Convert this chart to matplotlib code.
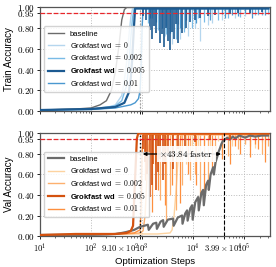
import matplotlib
matplotlib.use("Agg")
import matplotlib.pyplot as plt
from matplotlib.ticker import FixedLocator, FuncFormatter, NullFormatter

plt.rcParams['font.family'] = ['Liberation Sans', 'DejaVu Sans']
plt.rcParams['mathtext.fontset'] = 'cm'

# ---- train accuracy (top panel) ----
tr_base_x = [10, 50, 100, 150, 200, 250, 300, 350, 400, 450, 500, 300000]
tr_base_y = [0.01, 0.02, 0.03, 0.06, 0.1, 0.2, 0.38, 0.62, 0.88, 0.98, 1.0, 1.0]
tr_wd0_x = [10, 100, 200, 300, 400, 450, 500, 550, 600, 650, 300000]
tr_wd0_y = [0.01, 0.02, 0.03, 0.06, 0.15, 0.3, 0.48, 0.72, 0.9, 0.99, 0.99]
tr_wd002_x = [10, 100, 300, 400, 500, 550, 600, 650, 700, 300000]
tr_wd002_y = [0.01, 0.02, 0.05, 0.1, 0.25, 0.45, 0.7, 0.9, 0.99, 0.99]
tr_wd005_x = [10, 100, 300, 450, 550, 600, 640, 690, 730, 300000]
tr_wd005_y = [0.01, 0.02, 0.04, 0.08, 0.18, 0.32, 0.5, 0.8, 0.99, 0.99]
tr_wd01_x = [10, 100, 300, 600, 730, 850, 914, 960, 1000, 1046, 300000]
tr_wd01_y = [0.01, 0.015, 0.03, 0.06, 0.08, 0.12, 0.2, 0.45, 0.8, 0.99, 0.99]

# dips (step, lowest accuracy) of the noisy plateau
tr_wd0_dip_x = [1799, 2825, 3873, 5559, 7980, 10940, 13710, 19690, 23600, 37050, 66700, 104700,
                188300, 2061, 4643, 9550, 30900, 53100, 143600, 258000, 16440, 83500, 225400]
tr_wd0_dip_y = [0.82, 0.72, 0.65, 0.7, 0.72, 0.8, 0.68, 0.83, 0.85, 0.88, 0.9, 0.92,
                0.93, 0.9, 0.86, 0.9, 0.94, 0.95, 0.94, 0.95, 0.93, 0.95, 0.94]
tr_wd002_dip_x = [1311, 2061, 2956, 4643, 6660, 9550, 16440, 30900, 48530, 83500, 225400,
                  1571, 3540, 12530, 42400, 131300, 295500, 5081, 21540, 66700, 164500]
tr_wd002_dip_y = [0.85, 0.78, 0.74, 0.7, 0.76, 0.8, 0.86, 0.88, 0.9, 0.91, 0.93,
                  0.9, 0.8, 0.9, 0.94, 0.95, 0.94, 0.84, 0.92, 0.94, 0.93]
tr_wd005_dip_x = [1198, 1436, 1571, 1883, 2255, 2700, 3236, 3540, 4238, 5081, 6083, 7295, 8730,
                  13710, 27000, 53100, 131300, 1046, 1719, 2467, 2956, 3873, 4643, 10940,
                  19690, 76200, 225400]
tr_wd005_dip_y = [0.88, 0.78, 0.7, 0.75, 0.66, 0.62, 0.68, 0.59, 0.7, 0.66, 0.75, 0.8, 0.86,
                  0.9, 0.93, 0.94, 0.95, 0.92, 0.82, 0.74, 0.8, 0.76, 0.84, 0.88,
                  0.92, 0.95, 0.96]
tr_wd01_dip_x = [1436, 2467, 3540, 5559, 11450, 21540, 42400, 76200, 143600, 258000,
                 19690, 37050, 104700, 188300, 1883, 2956, 7295, 58200]
tr_wd01_dip_y = [0.9, 0.8, 0.75, 0.8, 0.85, 0.88, 0.9, 0.92, 0.9, 0.93,
                 0.95, 0.94, 0.95, 0.94, 0.86, 0.82, 0.88, 0.93]

# ---- val accuracy (bottom panel) ----
va_base_x = [10, 30, 100, 200, 300, 400, 500, 700, 914, 1100, 1300, 1350, 1644, 1900, 1950,
             2300, 2582, 2650, 3200, 4055, 4150, 5000, 6083, 6200, 7000, 7620, 7800, 8800,
             9550, 9800, 11000, 12530, 12900, 14500, 15710, 16200, 18000, 19690, 20300,
             22000, 24680, 25500, 27500, 29570, 31500, 33830, 36000, 38730, 42000, 46450,
             52000, 60000, 66700, 80000, 104700, 130000, 164500, 220000, 295000]
va_base_y = [0.01, 0.012, 0.012, 0.015, 0.02, 0.03, 0.04, 0.06, 0.09, 0.1, 0.11, 0.06, 0.12,
             0.13, 0.07, 0.14, 0.155, 0.09, 0.16, 0.17, 0.1, 0.18, 0.2, 0.12, 0.22, 0.25, 0.15,
             0.27, 0.3, 0.16, 0.33, 0.38, 0.25, 0.42, 0.45, 0.3, 0.5, 0.54, 0.45, 0.6, 0.67,
             0.6, 0.72, 0.77, 0.82, 0.86, 0.9, 0.93, 0.94, 0.96, 0.94, 0.97, 0.95, 0.98, 0.96,
             0.98, 0.97, 0.98, 0.98]
va_wd0_x = [10, 100, 500, 1000, 2000, 3540, 3873, 4238, 4643, 5081, 5559, 6083, 300000]
va_wd0_y = [0.01, 0.015, 0.02, 0.02, 0.02, 0.03, 0.06, 0.2, 0.45, 0.75, 0.92, 0.99, 0.99]
va_wd002_x = [10, 100, 500, 914, 1046, 1145, 1253, 1371, 1436, 300000]
va_wd002_y = [0.01, 0.015, 0.02, 0.03, 0.05, 0.2, 0.6, 0.95, 0.99, 0.99]
va_wd005_x = [10, 50, 100, 300, 500, 600, 665, 720, 790, 840, 300000]
va_wd005_y = [0.01, 0.02, 0.02, 0.02, 0.03, 0.05, 0.1, 0.5, 0.95, 1.0, 1.0]
va_wd01_x = [10, 100, 300, 700, 914, 960, 1000, 1046, 300000]
va_wd01_y = [0.01, 0.015, 0.02, 0.03, 0.06, 0.3, 0.8, 0.99, 0.99]

va_wd0_dip_x = [7295, 9550, 12530, 21540, 37050, 58200, 104700, 164500, 258000, 30900, 83500,
                16440, 131300, 225400]
va_wd0_dip_y = [0.7, 0.8, 0.75, 0.85, 0.82, 0.88, 0.9, 0.86, 0.9, 0.93, 0.94,
                0.9, 0.93, 0.92]
va_wd002_dip_x = [1799, 2255, 2956, 3540, 4643, 6083, 8730, 13710, 19690, 27000, 48530,
                  76200, 131300, 225400, 10940, 37050, 104700, 295500]
va_wd002_dip_y = [0.7, 0.35, 0.15, 0.4, 0.25, 0.5, 0.55, 0.35, 0.45, 0.7, 0.78,
                  0.85, 0.88, 0.8, 0.6, 0.86, 0.9, 0.88]
va_wd005_dip_x = [1046, 1253, 1436, 1645, 1883, 2255, 2582, 3236, 4055, 5081, 6966, 10940,
                  21540, 53100, 1145, 1571, 2061, 2825]
va_wd005_dip_y = [0.85, 0.6, 0.38, 0.7, 0.45, 0.75, 0.55, 0.8, 0.65, 0.85, 0.88, 0.92,
                  0.94, 0.95, 0.72, 0.5, 0.62, 0.7]
va_wd01_dip_x = [1145, 1571, 2061, 2825, 3873, 5559, 7980, 11450, 16440, 23600, 37050, 53100,
                 83500, 131300, 188300, 258000, 66700, 164500]
va_wd01_dip_y = [0.55, 0.23, 0.45, 0.3, 0.5, 0.32, 0.6, 0.5, 0.45, 0.62, 0.75, 0.7,
                 0.8, 0.77, 0.85, 0.72, 0.88, 0.9]

labels = ['baseline', r'Grokfast wd $=$ $0$', r'Grokfast wd $=$ $0.002$',
          r'Grokfast wd $\mathbf{=}$ $\mathbf{0.005}$', r'Grokfast wd $=$ $0.01$']
blue = ['#6b6b6b', '#b5d6ee', '#79bbe6', '#1c5a91', '#4a98d0']
orange = ['#6b6b6b', '#fdd3a0', '#fdb06e', '#d4520f', '#fd8f3e']

grok_base = 39900
grok_fast = 910
speedup = 43.84

fig = plt.figure(figsize=(2.76, 2.67), dpi=100)
ax1 = fig.add_axes([0.145, 0.584, 0.833, 0.39])
ax2 = fig.add_axes([0.145, 0.116, 0.833, 0.386])

tr_curves = [(tr_base_x, tr_base_y), (tr_wd0_x, tr_wd0_y), (tr_wd002_x, tr_wd002_y),
             (tr_wd005_x, tr_wd005_y), (tr_wd01_x, tr_wd01_y)]
tr_dips = [None, (tr_wd0_dip_x, tr_wd0_dip_y), (tr_wd002_dip_x, tr_wd002_dip_y),
           (tr_wd005_dip_x, tr_wd005_dip_y), (tr_wd01_dip_x, tr_wd01_dip_y)]
va_curves = [(va_base_x, va_base_y), (va_wd0_x, va_wd0_y), (va_wd002_x, va_wd002_y),
             (va_wd005_x, va_wd005_y), (va_wd01_x, va_wd01_y)]
va_dips = [None, (va_wd0_dip_x, va_wd0_dip_y), (va_wd002_dip_x, va_wd002_dip_y),
           (va_wd005_dip_x, va_wd005_dip_y), (va_wd01_dip_x, va_wd01_dip_y)]

order = [1, 2, 4, 3, 0]  # dark wd=0.005 and baseline drawn late
for ax, curves, dips, cols in [(ax1, tr_curves, tr_dips, blue), (ax2, va_curves, va_dips, orange)]:
    for i in order:
        x, y = curves[i]
        lw = 1.6 if i == 3 else 1.0
        if i == 0 and ax is ax2:
            lw = 1.6
        ax.plot(x, y, color=cols[i], lw=lw, label=labels[i], zorder=3 + (i == 3))
        if dips[i] is not None:
            dx, dy = dips[i]
            ax.vlines(dx, dy, 0.99, color=cols[i], lw=1.2 if i == 3 else 0.9, zorder=3 + (i == 3))

for ax in (ax1, ax2):
    ax.set_xscale('log')
    ax.set_xlim(10, 320000)
    ax.set_ylim(0, 1.005)
    ax.axhline(0.95, color='#e8262a', ls='--', lw=0.9, zorder=6)
    ax.yaxis.set_major_locator(FixedLocator([0, 0.2, 0.4, 0.6, 0.8, 0.95, 1.0]))
    ax.yaxis.set_major_formatter(FuncFormatter(lambda v, p: r'$%.2f$' % v))
    ax.grid(True, which='major', ls=':', color='#bbbbbb', lw=0.7)
    ax.tick_params(labelsize=6.5, length=2.5, width=0.6, pad=1.5)
    ax.tick_params(axis='x', labelsize=6.2)
    ax.tick_params(which='minor', length=1.5, width=0.4)
    for s in ax.spines.values():
        s.set_color('#555555')
        s.set_linewidth(0.9)
    handles, labs = ax.get_legend_handles_labels()
    idx = [labs.index(l) for l in labels]
    leg = ax.legend([handles[k] for k in idx], labels, loc='center left',
                    bbox_to_anchor=(0.0, 0.5), fontsize=5.5, handlelength=2.2,
                    handletextpad=0.7, borderpad=0.5, labelspacing=0.3,
                    framealpha=0.85, edgecolor='#cccccc')
    leg.get_texts()[3].set_fontweight('bold')

ax1.set_ylabel('Train Accuracy', fontsize=7, labelpad=2)
ax2.set_ylabel('Val Accuracy', fontsize=7, labelpad=2)
ax1.axvline(grok_fast, color='#999999', ls=':', lw=0.9, zorder=2)

xt = [10, 100, grok_fast, 1000, 10000, grok_base, 100000]
xt_labels = [r'$10^{1}$', r'$10^{2}$', r'$9.10\times10^{2}$', r'$10^{3}$', r'$10^{4}$',
             r'$3.99\times10^{4}$', r'$10^{5}$']
for ax in (ax1, ax2):
    ax.set_xticks(xt)
    ax.xaxis.set_minor_formatter(NullFormatter())
ax1.set_xticklabels([])
ax2.set_xticklabels(xt_labels)
ax2.get_xticklabels()[2].set_horizontalalignment('right')
ax2.set_xlabel('Optimization Steps', fontsize=6.8, labelpad=2)

ax2.axvline(grok_fast, ymax=1.0 / 1.005, color='k', ls=':', lw=1.0, zorder=5)
ax2.axvline(grok_base, ymax=1.0 / 1.005, color='k', ls='--', lw=0.8, zorder=5)
ax2.annotate('', xy=(grok_fast, 0.8), xytext=(grok_base, 0.8),
             arrowprops=dict(arrowstyle='<|-|>', color='k', lw=0.9, mutation_scale=5),
             zorder=7)
ax2.text(7400, 0.8, r'$\times %.2f\ \mathrm{faster}$' % speedup, fontsize=6.5,
         ha='center', va='center', zorder=8,
         bbox=dict(boxstyle='square,pad=0.3', fc='white', ec='none', alpha=0.9))

fig.savefig('out.png', dpi=100)
